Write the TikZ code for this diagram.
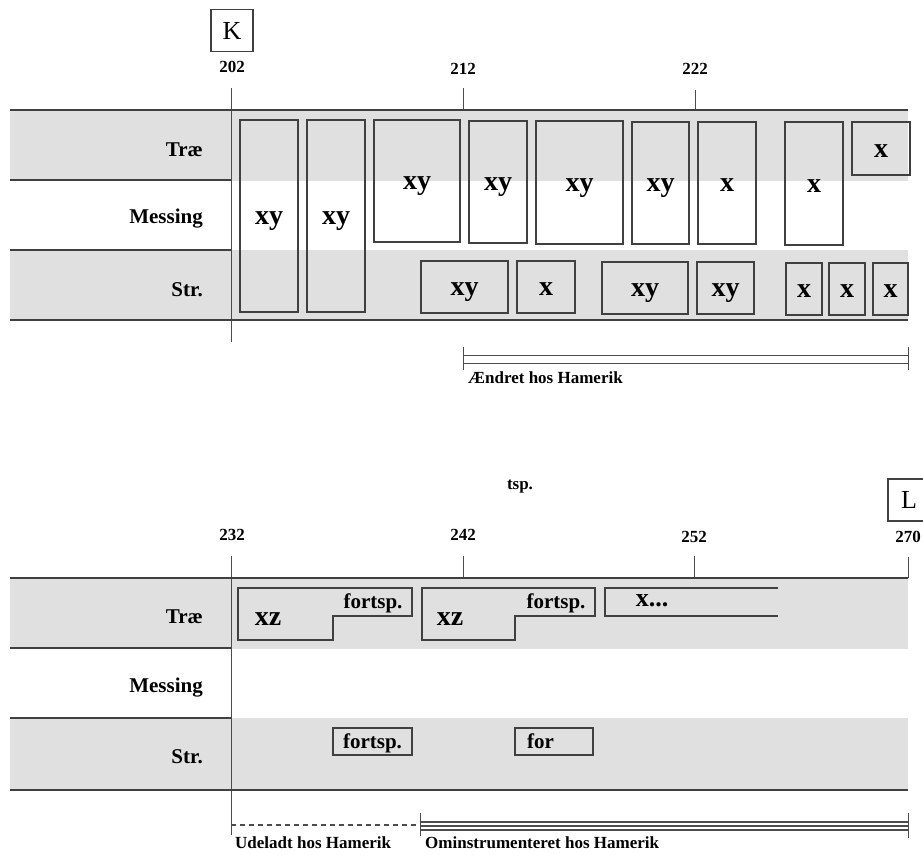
\documentclass[tikz,border=0pt]{standalone}
\usepackage{fontspec}
\setmainfont{Liberation Serif}
\begin{document}
\begin{tikzpicture}[x=1pt,y=-1pt,
  band/.style={fill=black!12,draw=none},
  rule/.style={draw=black!75,line width=1.3pt},
  thin/.style={draw=black!70,line width=1pt},
  outline/.style={draw=black!75,line width=1.2pt},
  rowlabel/.style={anchor=east,inner sep=0pt,font=\fontsize{21}{24}\selectfont\bfseries},
  num/.style={inner sep=0pt,font=\fontsize{17}{20}\selectfont\bfseries},
  markbox/.style={draw=black!75,line width=1.2pt,inner sep=0pt,minimum width=42pt,minimum height=42pt,font=\fontsize{26}{30}\selectfont},
  big/.style={inner sep=0pt,anchor=base,font=\fontsize{28}{32}\selectfont\bfseries},
  small/.style={inner sep=0pt,anchor=base,font=\fontsize{21}{24}\selectfont\bfseries},
  note/.style={anchor=west,inner sep=0pt,font=\fontsize{17}{20}\selectfont\bfseries}
]
\newcommand{\cellbox}[6]{%
  \node[outline,inner sep=0pt,minimum width={(#4-#2)*1pt},minimum height={(#5-#3)*1pt}] (#1) at ({(#2+#4)/2},{(#3+#5)/2}) {};
  \node[big] (#1t) at ({(#2+#4)/2},{(#3+#5)/2+8.5}) {#6};}
\useasboundingbox (0,0) rectangle (923,854);

% ===================== TOP CHART =====================
\fill[band] (10,110) rectangle (908,181);
\fill[band] (10,250) rectangle (908,320);

\node[markbox] (K) at (232,30.5) {K};
\node[num] (n202) at (232,67) {202};
\node[num] (n212) at (463,69) {212};
\node[num] (n222) at (695,69) {222};

\coordinate (t0) at (231,88);
\coordinate (t0b) at (231,342);
\draw[thin] (t0) -- (t0b);
\draw[thin] (463,88) -- (463,110);
\draw[thin] (695,90) -- (695,110);

\draw[rule] (10,110) -- (908,110);
\draw[rule] (10,180) -- (231,180);
\draw[rule] (10,250) -- (231,250);
\draw[rule] (10,320) -- (908,320);

\node[rowlabel] (tA) at (203,150) {Træ};
\node[rowlabel] (tB) at (203,219) {Messing};
\node[rowlabel] (tC) at (203,290) {Str.};

\cellbox{b1}{240}{120}{298}{312}{xy}
\cellbox{b2}{307}{120}{365}{312}{xy}
\cellbox{b3}{374}{120}{460}{242}{xy}
\cellbox{b4}{469}{121}{527}{243}{xy}
\cellbox{b5}{536}{121}{623}{244}{xy}
\cellbox{b6}{632}{122}{689}{244}{xy}
\cellbox{b7}{698}{122}{756}{244}{x}
\cellbox{b8}{785}{122}{843}{245}{x}
\cellbox{b9}{852}{122}{910}{175}{x}

\cellbox{s1}{421}{261}{508}{313}{xy}
\cellbox{s2}{517}{261}{575}{313}{x}
\cellbox{s3}{602}{262}{688}{314}{xy}
\cellbox{s4}{697}{262}{754}{314}{xy}
\cellbox{s5}{786}{263}{822}{315}{x}
\cellbox{s6}{829}{263}{865}{315}{x}
\cellbox{s7}{873}{263}{908}{315}{x}

% Aendret hos Hamerik
\coordinate (a1) at (463,355);
\coordinate (a2) at (908,355);
\coordinate (a3) at (463,363);
\coordinate (a4) at (908,363);
\draw[thin] (a1) -- (a2);
\draw[thin] (a3) -- (a4);
\draw[thin] (463,347) -- (463,370);
\draw[thin] (908,347) -- (908,370);
\node[note] (chg) at (468,378) {Ændret hos Hamerik};

% ===================== BOTTOM CHART =====================
\fill[band] (10,578) rectangle (908,649);
\fill[band] (10,718) rectangle (908,790);

\node[num] (tsp) at (520,487) {tsp.};
\node[markbox] (L) at (909,500) {L};
\node[num] (n232) at (232,535) {232};
\node[num] (n242) at (463,535) {242};
\node[num] (n252) at (694,537) {252};
\node[num] (n270) at (908,537) {270};

\draw[thin] (231,556) -- (231,835);
\draw[thin] (463,556) -- (463,578);
\draw[thin] (694,556) -- (694,578);
\draw[thin] (908,557) -- (908,578);

\draw[rule] (10,578) -- (908,578);
\draw[rule] (10,648) -- (231,648);
\draw[rule] (10,718) -- (231,718);
\draw[rule] (10,790) -- (908,790);

\node[rowlabel] (bA) at (203,617) {Træ};
\node[rowlabel] (bB) at (203,688) {Messing};
\node[rowlabel] (bC) at (203,757) {Str.};

% stepped boxes
\draw[outline] (238,588) -- (412,588) -- (412,616) -- (333,616) -- (333,640) -- (238,640) -- cycle;
\node[big] (xz1) at (268,625) {xz};
\node[small] (f1) at (373,608) {fortsp.};
\draw[outline] (422,588) -- (595,588) -- (595,616) -- (515,616) -- (515,640) -- (422,640) -- cycle;
\node[big] (xz2) at (450,625) {xz};
\node[small] (f2) at (556,608) {fortsp.};
\draw[outline] (778,588) -- (605,588) -- (605,616) -- (778,616);
\node[big,font=\fontsize{26}{30}\selectfont\bfseries] (xd) at (652,606) {x...};

\draw[outline] (333,728) rectangle (412,755);
\node[small] (f3) at (372.5,748) {fortsp.};
\draw[outline] (515,728) rectangle (593,755);
\node[small,anchor=base west] (f4) at (527,748) {for};

% bottom markers
\coordinate (d1) at (231,825);
\coordinate (d2) at (420,825);
\draw[thin,line width=1.3pt,dash pattern=on 5pt off 4pt] (d1) -- (d2);
\draw[thin] (420,813) -- (420,836);
\draw[thin] (908,813) -- (908,838);
\draw[thin,line width=1.3pt] (420,822) -- (908,822);
\draw[thin,line width=1.3pt] (420,826) -- (908,826);
\draw[thin,line width=1.3pt] (420,830) -- (908,830);
\node[note] (omit) at (235,843) {Udeladt hos Hamerik};
\node[note] (reinst) at (425,843) {Ominstrumenteret hos Hamerik};
\end{tikzpicture}
\end{document}
